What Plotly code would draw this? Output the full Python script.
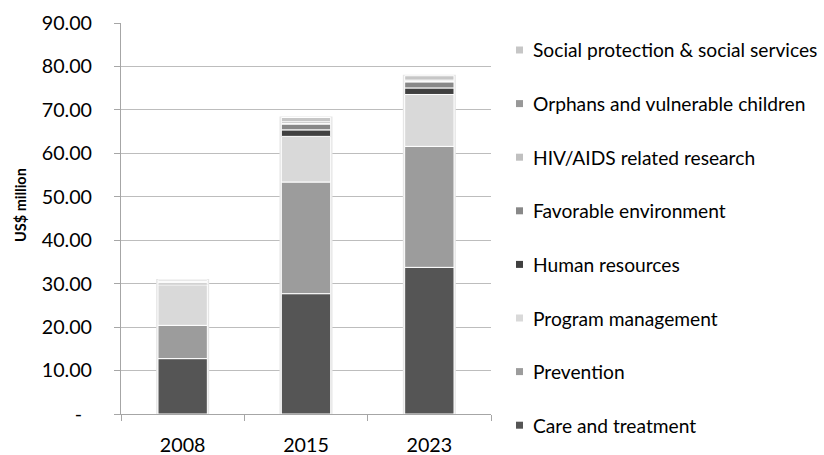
import numpy as np
import plotly.graph_objects as go

# Spending by programme area (US$ million)
years = ["2008", "2015", "2023"]
care_and_treatment = [12.75, 27.7, 33.75]
prevention = [7.65, 25.7, 27.85]
program_management = [9.35, 10.5, 11.95]
human_resources = [0.4, 1.5, 1.5]
favorable_environment = [0.2, 1.35, 1.4]
hiv_aids_research = [0.05, 0.1, 0.1]
orphans_vulnerable_children = [0.15, 0.4, 0.3]
social_protection = [0.3, 1.0, 1.0]

series_names = [
    "Care and treatment",
    "Prevention",
    "Program management",
    "Human resources",
    "Favorable environment",
    "HIV/AIDS related research",
    "Orphans and vulnerable children",
    "Social protection & social services",
]
series_values = [
    care_and_treatment,
    prevention,
    program_management,
    human_resources,
    favorable_environment,
    hiv_aids_research,
    orphans_vulnerable_children,
    social_protection,
]
series_colors = ["#555555", "#9c9c9c", "#d9d9d9", "#404040",
                 "#888888", "#c0c0c0", "#989898", "#c6c6c6"]

y_tick_values = [0, 10, 20, 30, 40, 50, 60, 70, 80, 90]
y_tick_labels = ["-\u00a0\u00a0", "10.00", "20.00", "30.00", "40.00",
                 "50.00", "60.00", "70.00", "80.00", "90.00"]

FONT = "Lato, 'Open Sans', sans-serif"
TEXT_SIZE = 19.7
LEGEND_SIZE = 19.2
BAR_WIDTH = 0.4

W, H = 824, 455
M_L, M_R, M_T, M_B = 121, 333, 23, 41
PLOT_W = W - M_L - M_R
PLOT_H = H - M_T - M_B


def px_to_paper(px, py):
    return (px - M_L) / PLOT_W, (H - M_B - py) / PLOT_H


stack = np.array(series_values, dtype=float)
bases = np.vstack([np.zeros(stack.shape[1]), np.cumsum(stack, axis=0)[:-1]])
totals = stack.sum(axis=0)

fig = go.Figure()

# soft halo around each column
fig.add_trace(go.Bar(
    x=years, y=totals + 0.25, width=BAR_WIDTH + 0.03,
    marker=dict(color="#e6e6e6", line=dict(width=0)),
    showlegend=False, hoverinfo="skip",
))

for i, (name, color) in enumerate(zip(series_names, series_colors)):
    fig.add_trace(go.Bar(
        x=years, y=stack[i], base=bases[i], width=BAR_WIDTH,
        name=name, showlegend=False,
        marker=dict(color=color, line=dict(color="white", width=1)),
    ))

# legend column: top entry is the last series in the stack
shapes = []
annotations = []
top_y, step = 50.0, 53.6
for k, i in enumerate(reversed(range(len(series_names)))):
    cy = top_y + k * step
    x0, y0 = px_to_paper(516, cy - 3.5)
    x1, y1 = px_to_paper(523, cy + 3.5)
    shapes.append(dict(type="rect", xref="paper", yref="paper",
                       x0=x0, x1=x1, y0=y0, y1=y1,
                       fillcolor=series_colors[i], line=dict(width=0)))
    tx, ty = px_to_paper(531, cy)
    annotations.append(dict(text=series_names[i], xref="paper", yref="paper",
                            x=tx, y=ty, xanchor="left", yanchor="middle",
                            showarrow=False,
                            font=dict(family=FONT, size=LEGEND_SIZE, color="#000000")))

ax, ay = px_to_paper(20, 205)
annotations.append(dict(
    text="<b>US$ million</b>", textangle=-90,
    xref="paper", yref="paper", x=ax, y=ay,
    xanchor="center", yanchor="middle", showarrow=False,
    font=dict(family=FONT, size=14.5, color="#000000"),
))

fig.update_layout(
    width=W, height=H,
    margin=dict(l=M_L, r=M_R, t=M_T, b=M_B, autoexpand=False),
    barmode="overlay",
    plot_bgcolor="white", paper_bgcolor="white",
    font=dict(family=FONT, size=TEXT_SIZE, color="#000000"),
    showlegend=False,
    shapes=shapes,
    annotations=annotations,
)

fig.update_xaxes(
    type="category", showline=True, linecolor="#a6a6a6", linewidth=1,
    ticks="outside", tickson="boundaries", ticklen=6, tickcolor="#a6a6a6",
    ticklabelstandoff=13, showgrid=False, automargin=False,
)
fig.update_yaxes(
    range=[0, 90], tickvals=y_tick_values, ticktext=y_tick_labels,
    showline=True, linecolor="#a6a6a6", linewidth=1,
    ticks="outside", ticklen=6, tickcolor="#a6a6a6",
    ticklabelstandoff=18, automargin=False,
    showgrid=True, gridcolor="#bdbdbd", gridwidth=1, zeroline=False,
)

fig.write_html("out.html")
